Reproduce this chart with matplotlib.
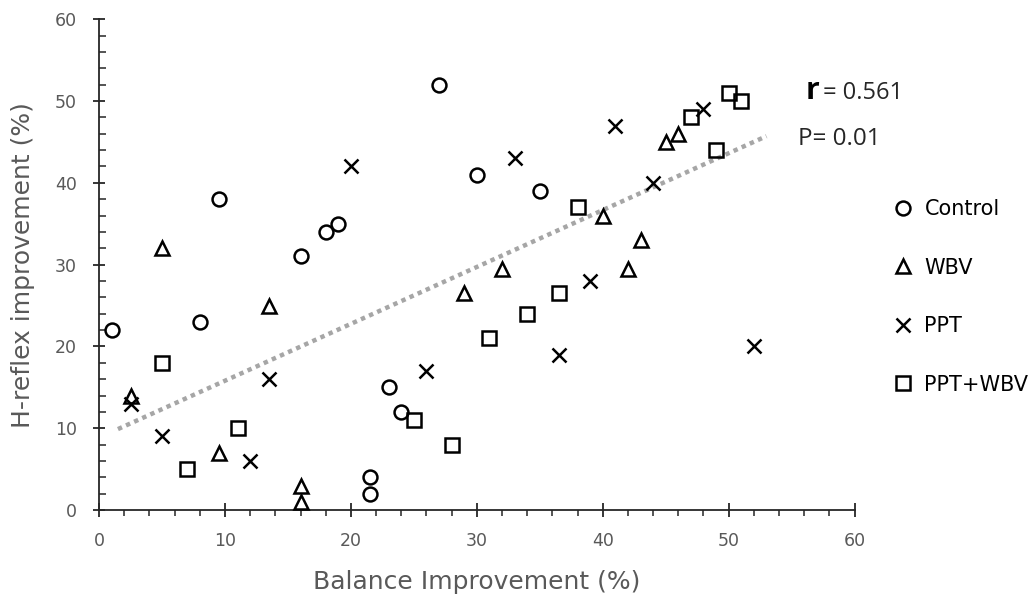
import numpy as np
import matplotlib.pyplot as plt
from matplotlib.ticker import MultipleLocator

plt.rcParams['font.family'] = ['DejaVu Sans']

### Data
control_x = [1, 8, 9.5, 16, 18, 19, 21.5, 21.5, 23, 24, 27, 30, 35]
control_y = [22, 23, 38, 31, 34, 35, 4, 2, 15, 12, 52, 41, 39]

wbv_x = [2.5, 5, 9.5, 13.5, 16, 16, 29, 32, 40, 42, 43, 45, 46]
wbv_y = [14, 32, 7, 25, 3, 1, 26.5, 29.5, 36, 29.5, 33, 45, 46]

ppt_x = [2.5, 5, 12, 13.5, 20, 26, 33, 36.5, 39, 41, 44, 48, 52]
ppt_y = [13, 9, 6, 16, 42, 17, 43, 19, 28, 47, 40, 49, 20]

combo_x = [5, 7, 11, 25, 28, 31, 34, 36.5, 38, 47, 49, 50, 51]
combo_y = [18, 5, 10, 11, 8, 21, 24, 26.5, 37, 48, 44, 51, 50]

trend_x = [1.5, 53]
trend_y = [9.9, 45.7]

groups = [
    ('Control', control_x, control_y, 'o'),
    ('WBV', wbv_x, wbv_y, '^'),
    ('PPT', ppt_x, ppt_y, 'x'),
    ('PPT+WBV', combo_x, combo_y, 's'),
]

### Plot
fig = plt.figure(figsize=(10.35, 5.98), dpi=100)
ax = fig.add_axes([0.0957, 0.147, 0.7300, 0.821])

ax.plot(trend_x, trend_y, color='#a6a6a6', linewidth=3.2,
        linestyle=(0, (1, 1)), dash_capstyle='butt', zorder=1)

handles = []
for label, xs, ys, marker in groups:
    h, = ax.plot(xs, ys, linestyle='none', marker=marker, markersize=10,
                 markerfacecolor='none', markeredgecolor='black',
                 markeredgewidth=1.8, label=label, zorder=3, clip_on=False)
    handles.append(h)

ax.set_xlim(0, 60)
ax.set_ylim(0, 60)
ax.xaxis.set_major_locator(MultipleLocator(10))
ax.xaxis.set_minor_locator(MultipleLocator(2))
ax.yaxis.set_major_locator(MultipleLocator(10))
ax.yaxis.set_minor_locator(MultipleLocator(2))

for side in ['top', 'right']:
    ax.spines[side].set_visible(False)
for side in ['left', 'bottom']:
    ax.spines[side].set_color('#262626')
    ax.spines[side].set_linewidth(1.3)

ax.tick_params(axis='x', which='major', direction='inout', length=10,
               width=1.3, color='#262626', labelsize=12.5, labelcolor='#595959', pad=11)
ax.tick_params(axis='x', which='minor', direction='out', length=4,
               width=1.1, color='#262626')
ax.tick_params(axis='y', which='major', direction='inout', length=8,
               width=1.3, color='#262626', labelsize=12.5, labelcolor='#595959', pad=12)
ax.tick_params(axis='y', which='minor', direction='in', length=5,
               width=1.1, color='#262626')

ax.set_xlabel('Balance Improvement (%)', fontsize=18, color='#595959', labelpad=14)
ax.set_ylabel('H-reflex improvement (%)', fontsize=18, color='#595959', labelpad=14)

fig.text(0.778, 0.848, 'r', fontsize=22, fontweight='bold', color='black',
         va='center', family='Open Sans')
fig.text(0.795, 0.845, '= 0.561', fontsize=17, color='#262626', va='center',
         family='Open Sans')
fig.text(0.771, 0.767, 'P= 0.01', fontsize=17.5, color='#262626', va='center',
         family='Open Sans')

fig.legend(handles=handles, loc='upper left', bbox_to_anchor=(0.862, 0.667),
           frameon=False, fontsize=15, labelspacing=1.85, handletextpad=0.55,
           handlelength=1.0, borderpad=0, borderaxespad=0)

fig.savefig('out.png', dpi=100)
plt.close(fig)
